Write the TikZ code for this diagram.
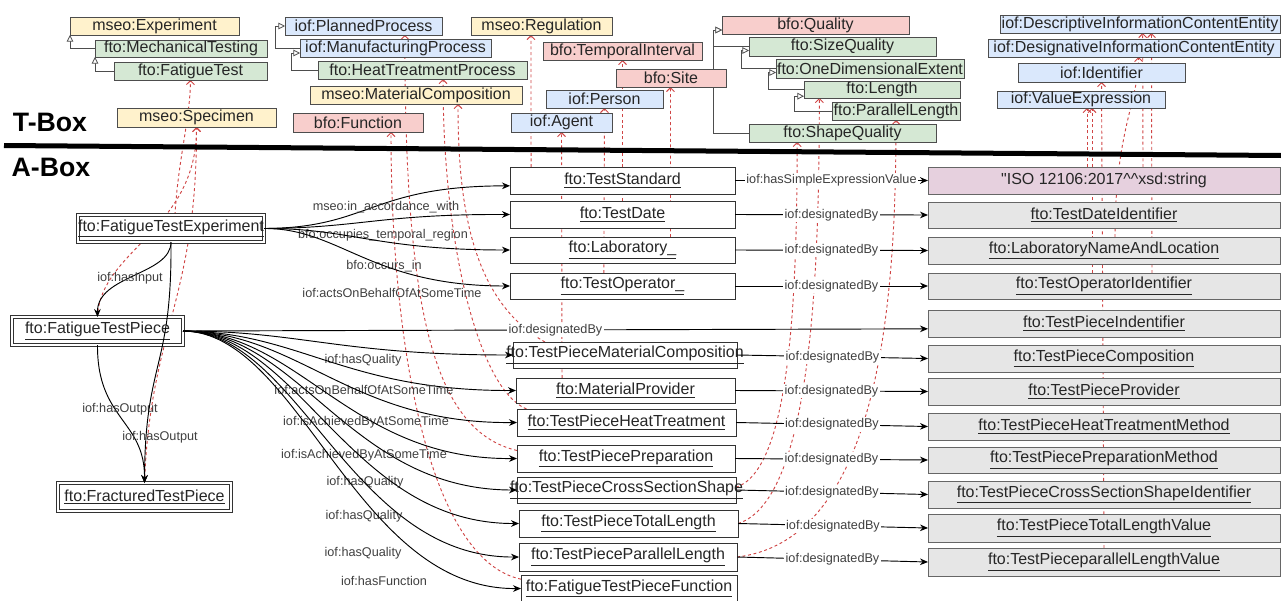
\documentclass[tikz,border=0pt]{standalone}
\usepackage{fontspec}
\setmainfont{Liberation Sans}
\newfontfamily\plainfont{Liberation Sans}[Ligatures=TeXOff]
\usetikzlibrary{arrows.meta,backgrounds}
\definecolor{yel}{HTML}{FFF2CC}
\definecolor{grn}{HTML}{D5E8D4}
\definecolor{blu}{HTML}{DAE8FC}
\definecolor{pnk}{HTML}{F8CECC}
\definecolor{gry}{HTML}{E6E6E6}
\definecolor{isoc}{HTML}{E6D0DE}
\definecolor{tbord}{HTML}{4D4D4D}
\definecolor{abord}{HTML}{333333}
\definecolor{gbord}{HTML}{666666}
\definecolor{txt}{HTML}{262626}
\definecolor{ltxt}{HTML}{404040}
\definecolor{rdc}{HTML}{D04545}
\newcommand{\boxtxt}[1]{\makebox[0pt]{#1}}
\newcommand{\boxul}[1]{\makebox[0pt]{\underline{#1}}}
\tikzset{
  bxbase/.style={inner sep=0pt, outer sep=0pt, font=\fontsize{12}{14}\selectfont, text=txt},
  sz/.style 2 args={minimum width=#1*0.75pt, minimum height=#2*0.75pt},
  tcls/.style={bxbase, draw=tbord, line width=0.6pt, fill=#1},
  indiv/.style={bxbase, draw=abord, line width=0.7pt, fill=white},
  litl/.style={bxbase, draw=gbord, line width=0.7pt, fill=#1},
  dbl/.style={bxbase, draw=abord, double=white, double distance=1.2pt, line width=0.6pt, fill=white},
  lbl/.style={font=\fontsize{9.5}{11}\selectfont, text=ltxt, inner sep=0.5pt},
  lblw/.style={lbl, fill=white, inner sep=1pt},
  arr/.style={draw=black, line width=0.7pt, -{Stealth[length=6pt,width=5pt]}},
  subcl/.style={draw=tbord, line width=0.6pt, -{Triangle[open,length=5pt,width=5pt,fill=white]}},
  rd/.style={draw=rdc, line width=0.7pt, dash pattern=on 2.2pt off 2pt, -{Straight Barb[length=3pt,width=6pt]}},
  boxlab/.style={font=\bfseries\fontsize{20}{24}\selectfont, text=black, inner sep=0pt}
}
\begin{document}
\begin{tikzpicture}[x=0.75pt,y=-0.75pt]
\useasboundingbox (0,0) rectangle (1281,600);

% ---------- T-Box classes ----------
\path
 node[tcls=yel, sz={169}{18}] (exp) at (154.5,26) {\boxtxt{mseo:Experiment}}
 node[tcls=grn, sz={172}{17}] (mech) at (181,48.5) {\boxtxt{fto:MechanicalTesting}}
 node[tcls=grn, sz={153}{18}] (fat) at (190.5,71) {\boxtxt{fto:FatigueTest}}
 node[tcls=yel, sz={159}{19}] (spec) at (196.5,117.5) {\boxtxt{mseo:Specimen}}
 node[tcls=blu, sz={157}{18}] (plan) at (363.5,26) {\boxtxt{iof:PlannedProcess}}
 node[tcls=blu, sz={191}{18}] (manu) at (395.5,48) {\boxtxt{iof:ManufacturingProcess}}
 node[tcls=grn, sz={209}{18}] (heat) at (422.5,70) {\boxtxt{fto:HeatTreatmentProcess}}
 node[tcls=yel, sz={212}{18}] (matc) at (416,95) {\boxtxt{mseo:MaterialComposition}}
 node[tcls=pnk, sz={130}{19}] (func) at (358,122.5) {\boxtxt{bfo:Function}}
 node[tcls=yel, sz={141}{18}] (reg) at (541.5,26) {\boxtxt{mseo:Regulation}}
 node[tcls=pnk, sz={159}{18}] (temp) at (622.5,51) {\boxtxt{bfo:TemporalInterval}}
 node[tcls=pnk, sz={110}{18}] (site) at (671,78) {\boxtxt{bfo:Site}}
 node[tcls=blu, sz={117}{18}] (person) at (604.5,99) {\boxtxt{iof:Person}}
 node[tcls=blu, sz={101}{19}] (agent) at (561.5,122.5) {\boxtxt{iof:Agent}}
 node[tcls=pnk, sz={187}{18}] (qual) at (815.5,25) {\boxtxt{bfo:Quality}}
 node[tcls=grn, sz={187}{19}] (sizeq) at (842.5,46.5) {\boxtxt{fto:SizeQuality}}
 node[tcls=grn, sz={188}{19}] (onedim) at (870,68.5) {\boxtxt{fto:OneDimensionalExtent}}
 node[tcls=grn, sz={156}{17}] (len) at (882,89.5) {\boxtxt{fto:Length}}
 node[tcls=grn, sz={128}{18}] (plen) at (896,111) {\boxtxt{fto:ParallelLength}}
 node[tcls=grn, sz={187}{18}] (shapeq) at (842.5,133) {\boxtxt{fto:ShapeQuality}}
 node[tcls=blu, sz={280}{18}] (desc) at (1140,24) {\boxtxt{iof:DescriptiveInformationContentEntity}}
 node[tcls=blu, sz={292}{18}] (desig) at (1134,48) {\boxtxt{iof:DesignativeInformationContentEntity}}
 node[tcls=blu, sz={167}{19}] (ident) at (1101.5,72.5) {\boxtxt{iof:Identifier}}
 node[tcls=blu, sz={168}{17}] (valex) at (1081,99.5) {\boxtxt{iof:ValueExpression}};

% ---------- A-Box individuals ----------
\path
 node[dbl, sz={186}{27}] (fte) at (171,228.5) {\boxul{fto:FatigueTestExperiment}}
 node[dbl, sz={171}{28}] (ftp) at (97.5,331) {\boxul{fto:FatigueTestPiece}}
 node[dbl, sz={173}{28}] (frac) at (144.5,497) {\boxul{fto:FracturedTestPiece}}
 node[indiv, sz={225}{27}] (ts) at (622.5,180.5) {\boxul{fto:TestStandard}}
 node[indiv, sz={225}{27}] (td) at (622.5,214.5) {\boxul{fto:TestDate}}
 node[indiv, sz={225}{26}] (lab) at (622.5,250) {\boxul{fto:Laboratory\_}}
 node[indiv, sz={225}{26}] (op) at (622.5,286) {\boxul{fto:TestOperator\_}}
 node[indiv, sz={224}{26}] (tpmc) at (625,355) {\boxul{fto:TestPieceMaterialComposition}}
 node[indiv, sz={219}{25}] (mp) at (625.5,390.5) {\boxul{fto:MaterialProvider}}
 node[indiv, sz={219}{27}] (tpht) at (626.5,422.5) {\boxul{fto:TestPieceHeatTreatment}}
 node[indiv, sz={218}{27}] (tpp) at (626,458.5) {\boxul{fto:TestPiecePreparation}}
 node[indiv, sz={219}{26}] (tpcs) at (626.5,490) {\boxul{fto:TestPieceCrossSectionShape}}
 node[indiv, sz={219}{27}] (tptl) at (628.5,523.5) {\boxul{fto:TestPieceTotalLength}}
 node[indiv, sz={218}{28}] (tppl) at (628,557) {\boxul{fto:TestPieceParallelLength}}
 node[indiv, sz={216}{27}] (ftpf) at (629,588.5) {\boxul{fto:FatigueTestPieceFunction}}
 node[litl=isoc, sz={352}{27}] (iso) at (1104,180.5) {\boxtxt{\plainfont "ISO 12106:2017\textasciicircum\textasciicircum xsd:string}}
 node[litl=gry, sz={352}{26}] (tdi) at (1104,215) {\boxul{fto:TestDateIdentifier}}
 node[litl=gry, sz={352}{27}] (lnl) at (1104,250.5) {\boxul{fto:LaboratoryNameAndLocation}}
 node[litl=gry, sz={352}{26}] (toi) at (1104,286) {\boxul{fto:TestOperatorIdentifier}}
 node[litl=gry, sz={352}{27}] (tpi) at (1104,323.5) {\boxul{fto:TestPieceIndentifier}}
 node[litl=gry, sz={352}{27}] (tpc) at (1104,358.5) {\boxul{fto:TestPieceComposition}}
 node[litl=gry, sz={352}{27}] (tpprov) at (1104,391.5) {\boxul{fto:TestPieceProvider}}
 node[litl=gry, sz={352}{27}] (tphtm) at (1104,426.5) {\boxul{fto:TestPieceHeatTreatmentMethod}}
 node[litl=gry, sz={352}{26}] (tppm) at (1104,460) {\boxul{fto:TestPiecePreparationMethod}}
 node[litl=gry, sz={352}{27}] (tpcsi) at (1104,494.5) {\boxul{fto:TestPieceCrossSectionShapeIdentifier}}
 node[litl=gry, sz={352}{28}] (tptlv) at (1104,528) {\boxul{fto:TestPieceTotalLengthValue}}
 node[litl=gry, sz={352}{28}] (tpplv) at (1104,562) {\boxul{fto:TestPieceparallelLengthValue}};

\begin{pgfonlayer}{background}
% ---------- red dashed type links (behind boxes) ----------
\draw[rd] ([xshift=3pt]fte.north) .. controls (178,160) and (190,120) .. (fat.south);
\draw[rd] (ftp.north) .. controls (100,250) and (197,230) .. (spec.south);
\draw[rd] (frac.north) .. controls (150,330) and (197,300) .. (spec.south);
\draw[rd] ([xshift=-68.6pt]ts.north) -- ([xshift=-7.9pt]reg.south);
\draw[rd] (td.north) -- (temp.south);
\draw[rd] ([xshift=36pt]lab.north) -- ([xshift=-0.4pt]site.south);
\draw[rd] ([xshift=-14pt]op.north) -- (person.south);
\draw[rd] ([xshift=-47.6pt]mp.north) -- (agent.south);
\draw[rd] ([xshift=-60pt]tpmc.north) .. controls (470,300) and (458,200) .. ([xshift=31.5pt]matc.south);
\draw[rd] ([xshift=-75pt]tpht.north) .. controls (480,390) and (443,250) .. ([xshift=15.4pt]heat.south);
\draw[rd] ([yshift=6pt]tpp.west) .. controls (430,430) and (405,300) .. ([xshift=31pt]plan.south);
\draw[rd] ([yshift=7pt]ftpf.west) .. controls (430,560) and (391,350) .. ([xshift=24.75pt]func.south);
\draw[rd] ([yshift=2pt]tpcs.east) .. controls (790,470) and (797,300) .. ([xshift=-34pt]shapeq.south);
\draw[rd] (tptl.east) .. controls (815,500) and (819,250) .. ([xshift=-47pt]len.south);
\draw[rd] (tppl.east) .. controls (880,540) and (896,300) .. (plen.south);
\draw[rd] ([xshift=-12.75pt]iso.north) -- ([xshift=4.5pt]valex.south);
\draw[rd] ([xshift=-9pt]toi.north) -- ([xshift=8.25pt]valex.south);
\draw[rd] (tpplv.north) -- (ident.south);
\draw[rd] ([xshift=8.25pt]lnl.north) .. controls (1115,130) and (1139,100) .. ([xshift=3.4pt]desig.south);
\draw[rd] ([xshift=29.25pt]iso.north) -- ([xshift=2pt]desc.south);
\draw[rd] ([xshift=36pt]toi.north) -- ([xshift=8.6pt]desc.south);
% ---------- subclass connectors ----------
\draw[subcl] (mech.west) -| (exp.south west);
\draw[subcl] (fat.west) -| (mech.south west);
\draw[subcl] (manu.west) -- ++(-25,0) |- (plan.west);
\draw[subcl] (heat.west) -- ++(-27,0) |- ([yshift=-3.75pt]manu.west);
\draw[subcl] (sizeq.west) -- ++(-36,0) |- ([yshift=-3.75pt]qual.west);
\draw[subcl] (shapeq.west) -- ++(-36,0) |- ([yshift=-3.75pt]qual.west);
\draw[subcl] (onedim.west) -- ++(-35,0) |- ([yshift=-3pt]sizeq.west);
\draw[subcl] (len.west) -- ++(-36,0) |- ([yshift=-3pt]onedim.west);
\draw[subcl] (plen.west) -- ++(-38,0) |- ([yshift=-5pt]len.west);
\end{pgfonlayer}

% ---------- thick separator ----------
\coordinate (sepL) at (4,145.5);
\coordinate (sepR) at (1281,155.5);
\draw[line width=3.75pt, black] (sepL) -- (sepR);
\node[boxlab] (tboxlab) at (50,122) {T-Box};
\node[boxlab] (aboxlab) at (51,167) {A-Box};

% ---------- object property edges ----------
\draw[arr] (fte.east) .. controls (370,228) and (370,186) .. ([yshift=-4pt]ts.west)
  node[lbl] at (386,207) {mseo:in\_accordance\_with};
\draw[arr] (fte.east) .. controls (360,228) and (380,214) .. (td.west)
  node[lbl] at (383,235) {bfo:occupies\_temporal\_region};
\draw[arr] (fte.east) .. controls (350,228) and (375,250) .. (lab.west)
  node[lbl] at (384,266) {bfo:occurs\_in};
\draw[arr] (fte.east) .. controls (340,228) and (370,286) .. (op.west)
  node[lbl] at (392,293) {iof:actsOnBehalfOfAtSomeTime};

\draw[arr] (fte.south) .. controls (171,275) and (97,275) .. (ftp.north)
  node[lbl] at (130,278) {iof:hasInput};
\draw[arr] (ftp.south) .. controls (97,420) and (145,420) .. (frac.north)
  node[lbl] at (120,409) {iof:hasOutput};
\draw[arr] (fte.south) .. controls (172,370) and (145,360) .. (frac.north)
  node[lbl] at (160,437) {iof:hasOutput};

\draw[arr] (ftp.east) -- node[lblw, pos=0.5] {iof:designatedBy} ([yshift=-4pt]tpi.west);
\draw[arr] (ftp.east) .. controls (300,331) and (340,355) .. (tpmc.west)
  node[lbl] at (363,360) {iof:hasQuality};
\draw[arr] (ftp.east) .. controls (300,332) and (345,391) .. (mp.west)
  node[lbl] at (364,390) {iof:actsOnBehalfOfAtSomeTime};
\draw[arr] (ftp.east) .. controls (300,332) and (350,424) .. (tpht.west)
  node[lbl] at (366,422) {iof:isAchievedByAtSomeTime};
\draw[arr] (ftp.east) .. controls (300,332) and (350,460) .. (tpp.west)
  node[lbl] at (364,455) {iof:isAchievedByAtSomeTime};
\draw[arr] (ftp.east) .. controls (300,332) and (350,490) .. (tpcs.west)
  node[lbl] at (365,482) {iof:hasQuality};
\draw[arr] (ftp.east) .. controls (300,332) and (350,524) .. (tptl.west)
  node[lbl] at (364,516) {iof:hasQuality};
\draw[arr] (ftp.east) .. controls (300,332) and (350,558) .. (tppl.west)
  node[lbl] at (363,553) {iof:hasQuality};
\draw[arr] (ftp.east) .. controls (300,332) and (355,590) .. (ftpf.west)
  node[lbl] at (384,581) {iof:hasFunction};

\draw[arr] (ts.east) -- node[lblw] {iof:hasSimpleExpressionValue} (iso.west);
\draw[arr] (td.east) -- node[lblw] {iof:designatedBy} (tdi.west);
\draw[arr] (lab.east) -- node[lblw] {iof:designatedBy} (lnl.west);
\draw[arr] (op.east) -- node[lblw] {iof:designatedBy} (toi.west);
\draw[arr] (tpmc.east) -- node[lblw] {iof:designatedBy} (tpc.west);
\draw[arr] (mp.east) -- node[lblw] {iof:designatedBy} (tpprov.west);
\draw[arr] (tpht.east) -- node[lblw] {iof:designatedBy} (tphtm.west);
\draw[arr] (tpp.east) -- node[lblw] {iof:designatedBy} (tppm.west);
\draw[arr] (tpcs.east) -- node[lblw] {iof:designatedBy} (tpcsi.west);
\draw[arr] (tptl.east) -- node[lblw] {iof:designatedBy} (tptlv.west);
\draw[arr] (tppl.east) -- node[lblw] {iof:designatedBy} (tpplv.west);
\end{tikzpicture}
\end{document}
